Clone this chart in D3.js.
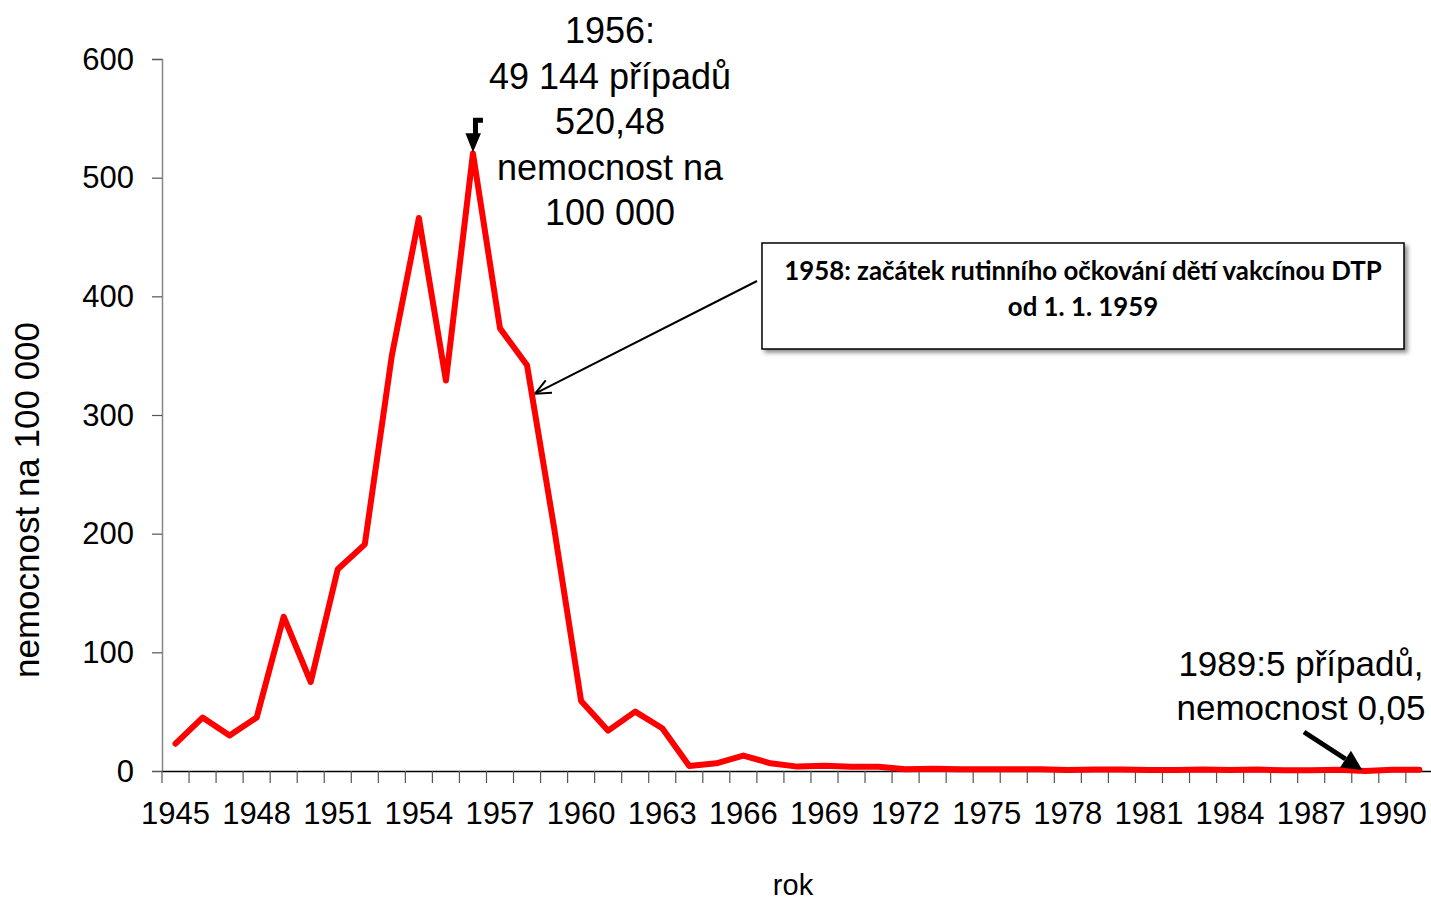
<!DOCTYPE html>
<html>
<head>
<meta charset="utf-8">
<script src="https://cdn.jsdelivr.net/npm/d3@7"></script>
<style>
  body { margin: 0; background: #fff; }
  svg { display: block; }
  text { font-family: "Liberation Sans", Arial, sans-serif; fill: #000; }
</style>
</head>
<body>
<svg id="main-svg" width="1431" height="900"></svg>
<script>
// roky 1945-1991
var years = d3.range(1945, 1992);
// nemocnost na 100 000
var rates = [23, 45, 30, 45, 130, 75, 170, 191, 350, 466, 329, 520.48, 373, 342,
             205, 59, 34, 50, 36, 4.2, 6.5, 13, 6.5, 3.7, 4.5, 3.5, 3.5, 1.5, 2,
             1.5, 1.5, 1.5, 1.5, 0.8, 1.2, 1.2, 0.8, 0.8, 1.2, 0.8, 1.2, 0.6, 0.6,
             1, 0.05, 1, 1];
var yTicks = [0, 100, 200, 300, 400, 500, 600];
var xLabelYears = d3.range(1945, 1992, 3);
var topNote = ["1956:", "49 144 případů", "520,48", "nemocnost na", "100 000"];
var boxNote = ["1958: začátek rutinního očkování dětí vakcínou DTP", "od 1. 1. 1959"];
var bottomNote = ["1989:5 případů,", "nemocnost 0,05"];

var data = years.map(function(y, i){ return {year: y, value: rates[i]}; });

var svg = d3.select("#main-svg");
var plotLeft = 162, plotTop = 59, plotBottom = 771, bandW = 27.04;
var plotRight = plotLeft + bandW * years.length;

var x = d3.scaleBand().domain(years).range([plotLeft, plotRight]).padding(0);
var y = d3.scaleLinear().domain([0, 600]).range([plotBottom, plotTop]);
function cx(yr){ return x(yr) + x.bandwidth() / 2; }

var defs = svg.append("defs");
var shadow = defs.append("filter").attr("id", "fShadow").attr("x", "-5%").attr("y", "-10%").attr("width", "115%").attr("height", "130%");
shadow.append("feDropShadow").attr("dx", 3).attr("dy", 3).attr("stdDeviation", 2).attr("flood-color", "#000").attr("flood-opacity", 0.45);

// y osa
var yAxis = svg.append("g").attr("class", "y-axis").attr("transform", "translate(" + plotLeft + ",0)")
  .call(d3.axisLeft(y).tickValues(yTicks).tickSize(10).tickPadding(18).tickFormat(d3.format("d")));
yAxis.select(".domain").attr("stroke", "#868686").attr("stroke-width", 1.5);
yAxis.selectAll(".tick line").attr("stroke", "#555").attr("stroke-width", 1.2);
yAxis.selectAll(".tick text").style("font-size", "31px").attr("dy", "0.33em");

// x osa
var xAxis = svg.append("g").attr("class", "x-axis").attr("transform", "translate(0," + plotBottom + ")")
  .call(d3.axisBottom(x).tickValues([]).tickSizeOuter(0));
xAxis.select(".domain").attr("stroke", "#000").attr("stroke-width", 1.5);
xAxis.selectAll(".sep").data(years).enter().append("line")
  .attr("class", "sep")
  .attr("x1", function(d){ return x(d); }).attr("x2", function(d){ return x(d); })
  .attr("y1", 0).attr("y2", 12)
  .attr("stroke", "#555").attr("stroke-width", 1.2);
xAxis.selectAll(".lbl").data(xLabelYears).enter().append("text")
  .attr("class", "lbl")
  .attr("x", function(d){ return cx(d); })
  .attr("y", 53)
  .attr("text-anchor", "middle")
  .style("font-size", "31px")
  .text(function(d){ return d; });

// popisky os
svg.append("text").attr("transform", "translate(39,500) rotate(-90)")
  .attr("text-anchor", "middle").style("font-size", "35px")
  .text("nemocnost  na 100 000");
svg.append("text").attr("x", 793).attr("y", 895)
  .attr("text-anchor", "middle").style("font-size", "29px").text("rok");

// datová řada
var line = d3.line().x(function(d){ return cx(d.year); }).y(function(d){ return y(d.value); });
svg.append("path").datum(data)
  .attr("d", line)
  .attr("fill", "none")
  .attr("stroke", "#FF0000")
  .attr("stroke-width", 6)
  .attr("stroke-linejoin", "round")
  .attr("stroke-linecap", "round");

// anotace 1956
var peakX = cx(1956), peakY = y(520.48);
svg.append("path")
  .attr("d", "M" + (peakX + 10) + "," + (peakY - 33) + "H" + (peakX + 2.5) + "V" + (peakY - 16))
  .attr("fill", "none").attr("stroke", "#000").attr("stroke-width", 5);
svg.append("path")
  .attr("d", "M" + (peakX - 7.5) + "," + (peakY - 20) + "L" + (peakX + 8) + "," + (peakY - 20) + "L" + (peakX) + "," + (peakY - 1) + "Z")
  .attr("fill", "#000");
svg.append("g").selectAll("text").data(topNote).enter().append("text")
  .attr("x", 610).attr("y", function(d, i){ return 43 + i * 45.5; })
  .attr("text-anchor", "middle").style("font-size", "36px")
  .text(function(d){ return d; });

// rámeček 1958
var box = svg.append("g");
box.append("rect").attr("x", 762).attr("y", 243).attr("width", 642).attr("height", 106)
  .attr("fill", "#fff").attr("stroke", "#000").attr("stroke-width", 1.5)
  .attr("filter", "url(#fShadow)");
box.selectAll("text").data(boxNote).enter().append("text")
  .attr("x", 1083).attr("y", function(d, i){ return 280 + i * 36; })
  .attr("text-anchor", "middle")
  .style("font-family", "Lato, 'Open Sans', sans-serif")
  .style("font-weight", "bold").style("font-size", "25.8px")
  .text(function(d){ return d; });

// šipka k roku 1958
var tipX = cx(1958) + 8, tipY = y(318);
var sx = 757, sy = 281;
svg.append("line").attr("x1", sx).attr("y1", sy).attr("x2", tipX).attr("y2", tipY)
  .attr("stroke", "#000").attr("stroke-width", 2);
var ang = Math.atan2(sy - tipY, sx - tipX), hl = 17;
[0.42, -0.42].forEach(function(a){
  svg.append("line").attr("x1", tipX).attr("y1", tipY)
    .attr("x2", tipX + hl * Math.cos(ang + a)).attr("y2", tipY + hl * Math.sin(ang + a))
    .attr("stroke", "#000").attr("stroke-width", 2);
});

// anotace 1989
svg.append("g").selectAll("text").data(bottomNote).enter().append("text")
  .attr("x", 1301).attr("y", function(d, i){ return 676 + i * 44; })
  .attr("text-anchor", "middle").style("font-size", "35px")
  .text(function(d){ return d; });
var tip2X = cx(1989) - 3, tip2Y = y(0.05) - 1;
var s2x = 1304, s2y = 732;
var ang2 = Math.atan2(tip2Y - s2y, tip2X - s2x);
var baseX = tip2X - 20 * Math.cos(ang2), baseY = tip2Y - 20 * Math.sin(ang2);
svg.append("line").attr("x1", s2x).attr("y1", s2y).attr("x2", baseX).attr("y2", baseY)
  .attr("stroke", "#000").attr("stroke-width", 5);
var px = -Math.sin(ang2) * 10, py = Math.cos(ang2) * 10;
svg.append("path")
  .attr("d", "M" + tip2X + "," + tip2Y + "L" + (baseX + px) + "," + (baseY + py) + "L" + (baseX - px) + "," + (baseY - py) + "Z")
  .attr("fill", "#000");
</script>
</body>
</html>
